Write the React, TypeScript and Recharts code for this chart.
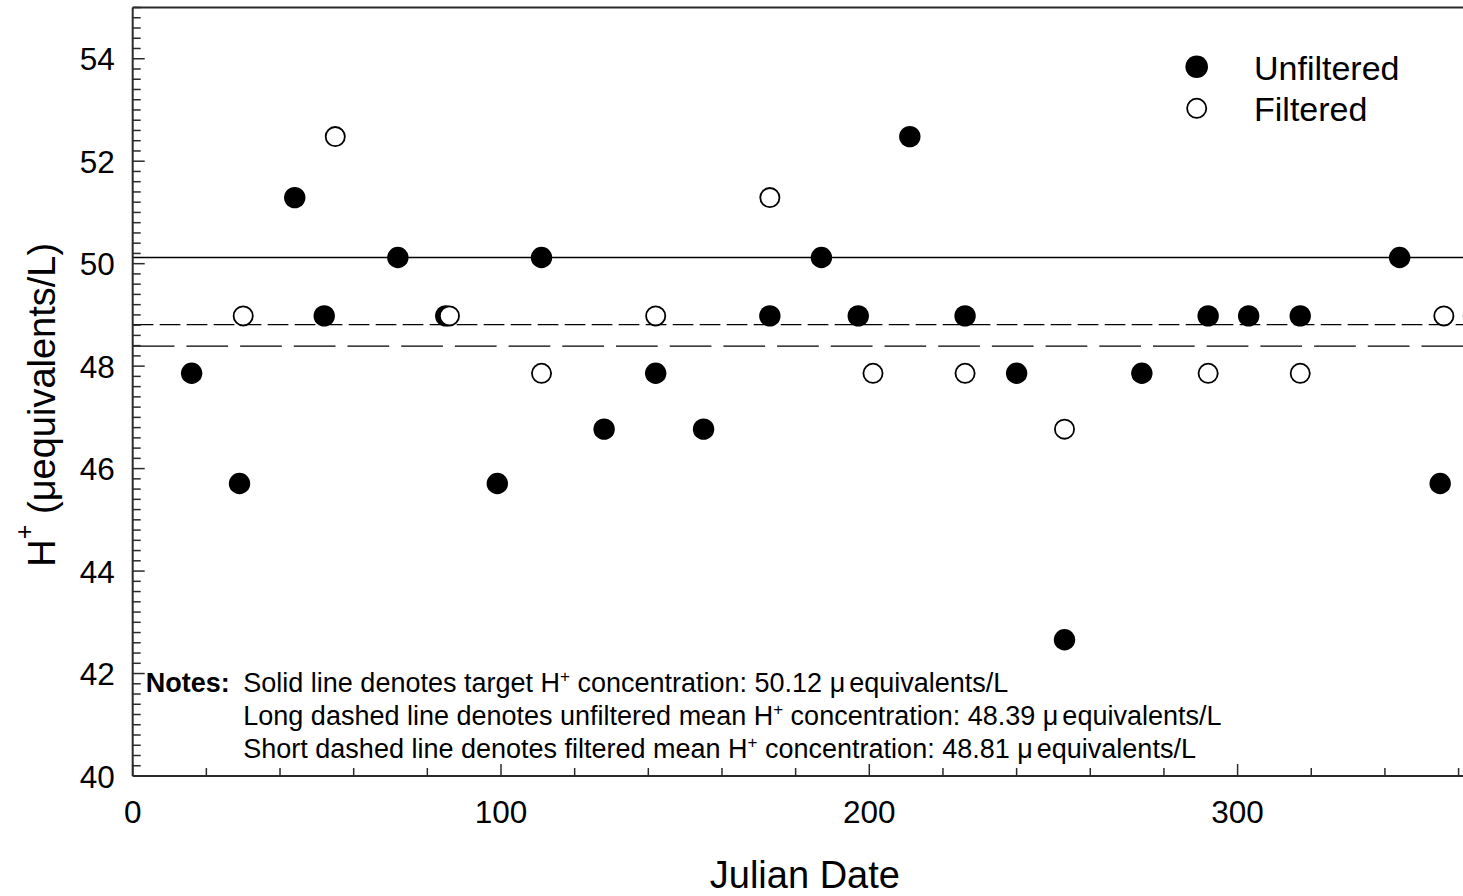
import React from "react";
import { ScatterChart, Scatter, XAxis, YAxis, ReferenceLine, Legend } from "recharts";

// Julian day / H+ readings (µequivalents/L)
const unfilteredDays = [16, 29, 44, 52, 72, 85, 99, 111, 128, 142, 155, 173, 187, 197, 211, 226, 240, 253, 274, 292, 303, 317, 344, 355];
const unfilteredH = [47.86, 45.71, 51.29, 48.98, 50.12, 48.98, 45.71, 50.12, 46.77, 47.86, 46.77, 48.98, 50.12, 48.98, 52.48, 48.98, 47.86, 42.66, 47.86, 48.98, 48.98, 48.98, 50.12, 45.71];

const filteredDays = [30, 55, 86, 111, 142, 173, 201, 226, 253, 292, 317, 356, 364];
const filteredH = [48.98, 52.48, 48.98, 47.86, 48.98, 51.29, 47.86, 47.86, 46.77, 47.86, 47.86, 48.98, 48.98];

const targetH = 50.12;
const unfilteredMean = 48.39;
const filteredMean = 48.81;

const seriesNames = ["Unfiltered", "Filtered"];

const xMajorTicks = [0, 100, 200, 300];
const yMajorTicks = [40, 42, 44, 46, 48, 50, 52, 54];

const noteLines = [
  { before: "Solid line denotes target H", after: " concentration: 50.12 " },
  { before: "Long dashed line denotes unfiltered mean H", after: " concentration: 48.39 " },
  { before: "Short dashed line denotes filtered mean H", after: " concentration: 48.81 " },
];

// minor ticks: every 20 days, every 0.2 units
const xTicks = Array.from({ length: 19 }, (_, i) => i * 20);
const yTicks = Array.from({ length: 76 }, (_, i) => Math.round((40 + i * 0.2) * 10) / 10);

const unfilteredData = unfilteredDays.map((d, i) => ({ day: d, h: unfilteredH[i] }));
const filteredData = filteredDays.map((d, i) => ({ day: d, h: filteredH[i] }));

const FONT = '"Liberation Sans", Arial, Helvetica, sans-serif';
const AXIS = "#2b2b2b";

const XTick = (props: any) => {
  const { x, y, payload } = props;
  const major = xMajorTicks.includes(payload.value);
  return (
    <g>
      <line x1={x} x2={x} y1={y} y2={y - (major ? 12 : 8)} stroke={AXIS} strokeWidth={1.5} />
      {major && (
        <text x={x} y={y + 47} textAnchor="middle" fontSize={31.5} fontFamily={FONT} fill="#000">
          {payload.value}
        </text>
      )}
    </g>
  );
};

const YTick = (props: any) => {
  const { x, y, payload } = props;
  const major = yMajorTicks.includes(payload.value);
  return (
    <g>
      <line x1={x} x2={x + (major ? 12 : 8)} y1={y} y2={y} stroke={AXIS} strokeWidth={1.5} />
      {major && (
        <text x={x - 18} y={y + 11.5} textAnchor="end" fontSize={31.5} fontFamily={FONT} fill="#000">
          {payload.value}
        </text>
      )}
    </g>
  );
};

const XTitle = (props: any) => {
  const vb = props.viewBox || { x: 132.7, y: 776, width: 1344.5 };
  return (
    <text x={vb.x + vb.width / 2} y={vb.y + 112} textAnchor="middle" fontSize={38} fontFamily={FONT} fill="#000">
      Julian Date
    </text>
  );
};

const YTitle = (props: any) => {
  const vb = props.viewBox || { x: 0, y: 7.5, height: 768.5 };
  const cx = 55;
  const cy = vb.y + vb.height / 2 + 13;
  return (
    <text
      x={cx}
      y={cy}
      transform={`rotate(-90, ${cx}, ${cy})`}
      textAnchor="middle"
      fontSize={38}
      fontFamily={FONT}
      fill="#000"
    >
      <tspan>H</tspan>
      <tspan fontSize={25} dy={-22}>+</tspan>
      <tspan dy={22}> (μequivalents/L)</tspan>
    </text>
  );
};

const FilledDot = (p: any) => <circle cx={p.cx} cy={p.cy} r={10.7} fill="#000" />;
const OpenDot = (p: any) => <circle cx={p.cx} cy={p.cy} r={9.6} fill="#fff" stroke="#000" strokeWidth={1.8} />;

const LegendContent = () => (
  <svg width={290} height={100} style={{ display: "block" }}>
    <circle cx={26.7} cy={26.7} r={11.3} fill="#000" />
    <text x={84} y={40} fontSize={34} fontFamily={FONT} fill="#000">{seriesNames[0]}</text>
    <circle cx={26.7} cy={68.3} r={9.6} fill="#fff" stroke="#000" strokeWidth={1.8} />
    <text x={84} y={80.7} fontSize={34} fontFamily={FONT} fill="#000">{seriesNames[1]}</text>
  </svg>
);

const App: React.FC = () => {
  return (
    <div
      style={{
        position: "absolute",
        left: 0,
        top: 0,
        width: 1463,
        height: 896,
        overflow: "hidden",
        background: "#fff",
        fontFamily: FONT,
      }}
    >
      <ScatterChart width={1490} height={896} margin={{ top: 7.5, right: 13, bottom: 0, left: 0 }}>
        <XAxis
          type="number"
          dataKey="day"
          domain={[0, 365]}
          ticks={xTicks}
          interval={0}
          tickSize={0}
          tickMargin={0}
          tickLine={false}
          height={120}
          axisLine={{ stroke: AXIS, strokeWidth: 2 }}
          tick={<XTick />}
          label={XTitle}
        />
        <YAxis
          type="number"
          dataKey="h"
          domain={[40, 55]}
          ticks={yTicks}
          interval={0}
          tickSize={0}
          tickMargin={0}
          tickLine={false}
          width={132.7}
          axisLine={{ stroke: AXIS, strokeWidth: 2 }}
          tick={<YTick />}
          label={YTitle}
        />
        <ReferenceLine y={55} stroke={AXIS} strokeWidth={2} />
        <ReferenceLine x={365} stroke={AXIS} strokeWidth={2} />
        <ReferenceLine y={targetH} stroke="#000" strokeWidth={1.3} />
        <ReferenceLine y={filteredMean} stroke="#000" strokeWidth={1.3} strokeDasharray="20.7 6.3" />
        <ReferenceLine y={unfilteredMean} stroke="#000" strokeWidth={1.3} strokeDasharray="41.7 12" />
        <Scatter name={seriesNames[0]} data={unfilteredData} isAnimationActive={false} shape={FilledDot} />
        <Scatter name={seriesNames[1]} data={filteredData} isAnimationActive={false} shape={OpenDot} />
        <Legend
          layout="vertical"
          align="center"
          verticalAlign="middle"
          wrapperStyle={{ left: 1170, top: 40, width: 290, height: 100 }}
          content={LegendContent}
        />
      </ScatterChart>
      <svg
        width={1463}
        height={896}
        style={{ position: "absolute", left: 0, top: 0, pointerEvents: "none" }}
      >
        <text x={145.7} y={692} fontSize={27} fontWeight="bold" fontFamily={FONT} fill="#000">
          Notes:
        </text>
        {noteLines.map((line, i) => (
          <text key={i} x={243.3} y={692 + i * 33} fontSize={27} fontFamily={FONT} fill="#000">
            <tspan>{line.before}</tspan>
            <tspan fontSize={17} dy={-10}>+</tspan>
            <tspan dy={10}>{line.after}</tspan>
            <tspan>μ</tspan>
            <tspan dx={4}>equivalents/L</tspan>
          </text>
        ))}
      </svg>
    </div>
  );
};

export default App;
